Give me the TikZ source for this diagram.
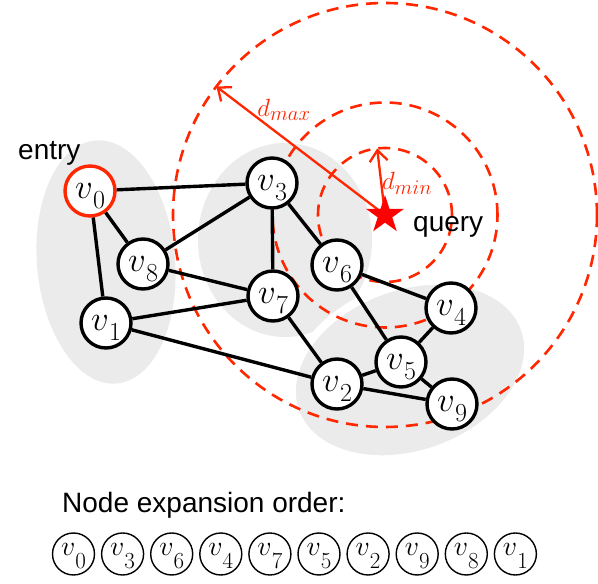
\RequirePackage{fix-cm}
\documentclass[tikz,border=0pt]{standalone}
\usepackage{fontspec}
\usepackage{graphicx}
\newfontfamily\sansf{Liberation Sans}
\usetikzlibrary{shapes.geometric,arrows.meta}
\definecolor{lred}{RGB}{255,38,0}
\definecolor{starred}{RGB}{255,0,0}
\definecolor{blobgray}{RGB}{235,235,235}
\newcommand\bigv[1]{\raisebox{-8pt}[0pt][0pt]{\scalebox{1.4}{$v$}\kern0.3pt\raisebox{-10pt}{\fontsize{26}{30}\selectfont #1}}}
\newcommand\smallv[1]{\raisebox{-2pt}[0pt][0pt]{\scalebox{1.125}{$v$}\raisebox{-13pt}{\fontsize{23}{27}\selectfont #1}}}
\tikzset{
  gnode/.style={circle,draw=black,fill=white,line width=3.4pt,minimum size=50pt,inner sep=0pt,font=\Huge},
  onode/.style={circle,draw=black,line width=1.4pt,minimum size=42pt,inner sep=0pt,font=\Huge},
  gedge/.style={line width=3.4pt},
  rangecirc/.style={lred,line width=2.6pt,dash pattern=on 12pt off 8pt},
  distarrow/.style={lred,line width=2.3pt,-{Straight Barb[length=11pt,width=18pt,line width=2.3pt]}},
  distlbl/.style={text=lred,font=\Huge},
  lbl/.style={inner sep=0pt,font=\sansf\fontsize{28}{32}\selectfont},
  querystar/.style={star,star points=5,star point ratio=2.618,fill=starred,draw=none,minimum size=40pt,inner sep=0pt}
}
\begin{document}
\begin{tikzpicture}[x=1pt,y=1pt]
\useasboundingbox (0,0) rectangle (598,584);
% gray groups
\fill[blobgray, rotate around={5:(106,322)}] (106,322) ellipse [x radius=69pt, y radius=122pt];
\fill[blobgray] (285,344) ellipse [x radius=87pt, y radius=97pt];
\filldraw[fill=blobgray, draw=white, line width=8pt, rotate around={20:(410,214)}] (410,214) ellipse [x radius=122pt, y radius=84pt];
% query and ranges
\coordinate (qc) at (385,369);
\draw[rangecirc] (qc) circle [radius=67pt];
\draw[rangecirc] (qc) circle [radius=112.5pt];
\draw[rangecirc] (qc) circle [radius=212pt];
\coordinate (dmaxend) at ([shift={(142.7:212pt)}]qc);
\coordinate (dminend) at ([shift={(96.7:67pt)}]qc);
\draw[distarrow] (qc) -- (dmaxend);
\draw[distarrow] (qc) -- (dminend);
\node[distlbl] (dmaxl) at (284,474) {$d_{max}$};
\node[distlbl] (dminl) at (407,401) {$d_{min}$};
% graph nodes
\node[gnode,draw=lred] (v0) at (90,393) {\bigv{0}};
\node[gnode] (v3) at (272,401) {\bigv{3}};
\node[gnode] (v8) at (143,320) {\bigv{8}};
\node[gnode] (v7) at (273,288) {\bigv{7}};
\node[gnode] (v1) at (106,261) {\bigv{1}};
\node[gnode] (v6) at (337,319) {\bigv{6}};
\node[gnode] (v4) at (451,276) {\bigv{4}};
\node[gnode] (v5) at (401,222) {\bigv{5}};
\node[gnode] (v2) at (337,200) {\bigv{2}};
\node[gnode] (v9) at (452,180) {\bigv{9}};
% edges
\draw[gedge] (v0) -- (v3);
\draw[gedge] (v0) -- (v8);
\draw[gedge] (v0) -- (v1);
\draw[gedge] (v8) -- (v3);
\draw[gedge] (v8) -- (v7);
\draw[gedge] (v1) -- (v7);
\draw[gedge] (v1) -- (v2);
\draw[gedge] (v3) -- (v7);
\draw[gedge] (v3) -- (v6);
\draw[gedge] (v7) -- (v2);
\draw[gedge] (v6) -- (v4);
\draw[gedge] (v6) -- (v5);
\draw[gedge] (v4) -- (v5);
\draw[gedge] (v5) -- (v2);
\draw[gedge] (v5) -- (v9);
\draw[gedge] (v2) -- (v9);
% query star
\node[querystar] (q) at (qc) {};
% texts
\node[lbl, anchor=base west] (entry) at (18,424) {entry};
\node[lbl, anchor=base west] (query) at (413,352) {query};
\node[lbl, anchor=base west] (order) at (62,71) {Node expansion order:};
% expansion order
\foreach \s [count=\k from 0] in {0,3,6,4,7,5,2,9,8,1} {
  \node[onode] (o\s) at ({73.5+49.1*\k},30) {\smallv{\s}};
}
\end{tikzpicture}
\end{document}
